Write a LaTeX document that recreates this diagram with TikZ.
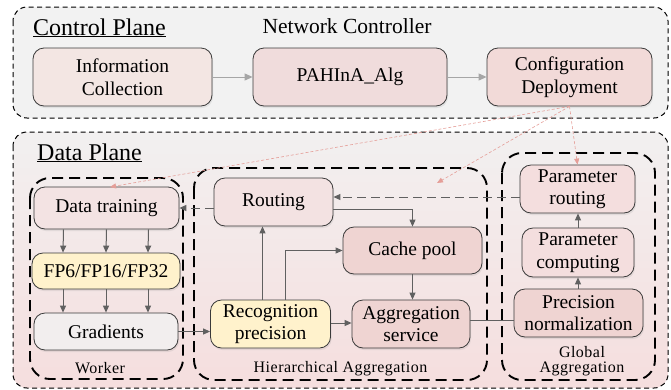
\documentclass[tikz,border=0pt]{standalone}
\usepackage{fontspec}
\setmainfont{Liberation Serif}
\usetikzlibrary{arrows.meta,shadows,calc}
\definecolor{ctrlbg}{HTML}{F2F2F2}
\definecolor{dptop}{HTML}{F2F0F0}
\definecolor{dpbot}{HTML}{F5DEDE}
\definecolor{boxline}{HTML}{3A3A3A}
\definecolor{cInfo}{HTML}{F3E6E3}
\definecolor{cAlg}{HTML}{F0DCDC}
\definecolor{cConf}{HTML}{F2DAD8}
\definecolor{cTrain}{HTML}{F3E3E3}
\definecolor{cYel}{HTML}{FFF2CC}
\definecolor{cGrad}{HTML}{F2EEEE}
\definecolor{cRout}{HTML}{F3E2E2}
\definecolor{cDeep}{HTML}{EFD4D2}
\definecolor{cPar}{HTML}{F4DEDE}
\definecolor{arrgray}{HTML}{606060}
\definecolor{arrlight}{HTML}{A6A6A6}
\definecolor{redl}{HTML}{E59E98}
\newcommand\bxfont{\fontsize{19.5}{22.5}\selectfont}
\newcommand\grpfont{\fontsize{16}{15}\selectfont\addfontfeature{LetterSpace=3}}
\begin{document}
\begin{tikzpicture}[x=1pt,y=-1pt,
  box/.style={draw=boxline, line width=0.8pt, rounded corners=11pt, align=center,
    inner sep=0pt, font=\bxfont,
    drop shadow={opacity=0.15, shadow xshift=1pt, shadow yshift=-2pt}},
  plane/.style={draw=black, line width=1pt, dash pattern=on 5pt off 3.5pt, rounded corners=14pt},
  group/.style={draw=black, line width=1.9pt, dash pattern=on 11pt off 6pt, rounded corners=20pt},
  garrow/.style={draw=arrgray, line width=1pt, -{Triangle[length=7pt,width=6pt]}},
  glink/.style={draw=arrgray, line width=1pt},
  gdash/.style={draw=arrgray, line width=1pt, dash pattern=on 9pt off 5pt, -{Triangle[length=7pt,width=6pt]}},
  larrow/.style={draw=arrlight, line width=1pt, -{Triangle[length=8pt,width=7pt]}},
  redarrow/.style={draw=redl, line width=0.6pt, dash pattern=on 3pt off 2pt, -{Triangle[length=6pt,width=5pt]}},
  lbl/.style={inner sep=0pt, anchor=base}
]
\useasboundingbox (0,0) rectangle (671,389);
% planes
\path[fill=ctrlbg, rounded corners=14pt] (13,7) rectangle (668,118);
\draw[plane] (13,7) rectangle (668,118);
\shade[top color=dptop, bottom color=dpbot, rounded corners=14pt] (13,132) rectangle (668,388);
\draw[plane] (13,132) rectangle (668,388);
% plane labels
\node[lbl, anchor=base west, font=\fontsize{24}{24}\selectfont] (cplbl) at (33,35) {\underline{Control Plane}};
\node[lbl, font=\fontsize{21.5}{22}\selectfont] (nclbl) at (347,33) {Network Controller};
\node[lbl, anchor=base west, font=\fontsize{24}{24}\selectfont] (dplbl) at (37,160) {\underline{Data Plane}};
% groups
\draw[group] (30,178) rectangle (183,379);
\draw[group] (194,168) rectangle (487,380);
\draw[group] (502,153) rectangle (655,380);
\node[lbl, font=\grpfont] (wlbl) at (100,373) {Worker};
\node[lbl, font=\grpfont] (hlbl) at (340.5,372) {Hierarchical Aggregation};
\node[lbl, font=\grpfont] (glbl1) at (582,357) {Global};
\node[lbl, font=\grpfont] (glbl2) at (582,372) {Aggregation};
% control plane nodes
\node[box, fill=cInfo, minimum width=179pt, minimum height=58pt] (info) at (122.5,77) {Information\\Collection};
\node[box, fill=cAlg, minimum width=194pt, minimum height=58pt] (alg) at (350,77) {PAHInA\_Alg};
\node[box, fill=cConf, minimum width=165pt, minimum height=58pt] (conf) at (569.5,77) {Configuration\\Deployment};
% worker
\node[box, fill=cTrain, minimum width=145pt, minimum height=42pt] (train) at (106.5,208) {Data training};
\node[box, fill=cYel, minimum width=148pt, minimum height=36pt] (fp) at (106,271) {FP6/FP16/FP32};
\node[box, fill=cGrad, minimum width=144pt, minimum height=37pt] (grad) at (106,331.5) {Gradients};
% hierarchical
\node[box, fill=cRout, minimum width=119pt, minimum height=48pt] (rout) at (273.5,202) {Routing};
\node[box, fill=cDeep, minimum width=139pt, minimum height=47pt] (cache) at (412.5,250.5) {Cache pool};
\node[box, fill=cYel, minimum width=120pt, minimum height=48pt] (recog) at (270.5,324) {Recognition\\precision};
\node[box, fill=cDeep, minimum width=118pt, minimum height=48pt] (aggr) at (411,324) {Aggregation\\service};
% global
\node[box, fill=cPar, minimum width=115pt, minimum height=48pt] (prout) at (577.5,189) {Parameter\\routing};
\node[box, fill=cPar, minimum width=112pt, minimum height=49pt] (pcomp) at (578,252.5) {Parameter\\computing};
\node[box, fill=cDeep, minimum width=129pt, minimum height=48pt] (pnorm) at (578.5,313) {Precision\\normalization};
% helper coordinates
\coordinate (proutw) at ([yshift=-8pt]prout.west);
\coordinate (route) at ([yshift=-7pt]rout.east);
\coordinate (recn1) at ([xshift=-8pt]recog.north);
\coordinate (recn2) at ([xshift=15pt]recog.north);
\coordinate (rece) at ([yshift=1pt]recog.east);
\coordinate (aggre) at ([yshift=4pt]aggr.east);
% control arrows
\draw[larrow] (info.east) -- (alg.west);
\draw[larrow] (alg.east) -- (conf.west);
% worker arrows
\foreach \dx in {-43,0,42}{
  \draw[garrow] ([xshift=\dx pt]train.south) -- ([xshift=\dx pt]fp.north);
  \draw[garrow] ([xshift=\dx pt]fp.south) -- ([xshift=\dx pt]grad.north);
}
\draw[garrow] (grad.east) -- (recog.west |- grad.east);
% hierarchical arrows
\draw[gdash] (rout.west |- train.east) -- (train.east);
\draw[gdash] (proutw) -- (rout.east |- proutw);
\draw[garrow] (route) -| (cache.north);
\draw[garrow] (recn1) -- (rout.south -| recn1);
\draw[garrow] (recn2) |- (cache.west);
\draw[garrow] (cache.south) -- (cache.south |- aggr.north);
\draw[garrow] (rece) -- (aggr.west |- rece);
\draw[glink] (aggre) -- (pnorm.west |- aggre);
% global arrows
\draw[garrow] (pnorm.north -| pcomp.south) -- (pcomp.south);
\draw[garrow] (pcomp.north) -- (pcomp.north |- prout.south);
% red dashed deployment arrows
\coordinate (hiertip) at (437,183);
\coordinate (traintip) at (110,187);
\draw[redarrow] (conf.south) -- (traintip);
\draw[redarrow] (conf.south) -- (hiertip);
\draw[redarrow] (conf.south) -- (prout.north);
\end{tikzpicture}
\end{document}
